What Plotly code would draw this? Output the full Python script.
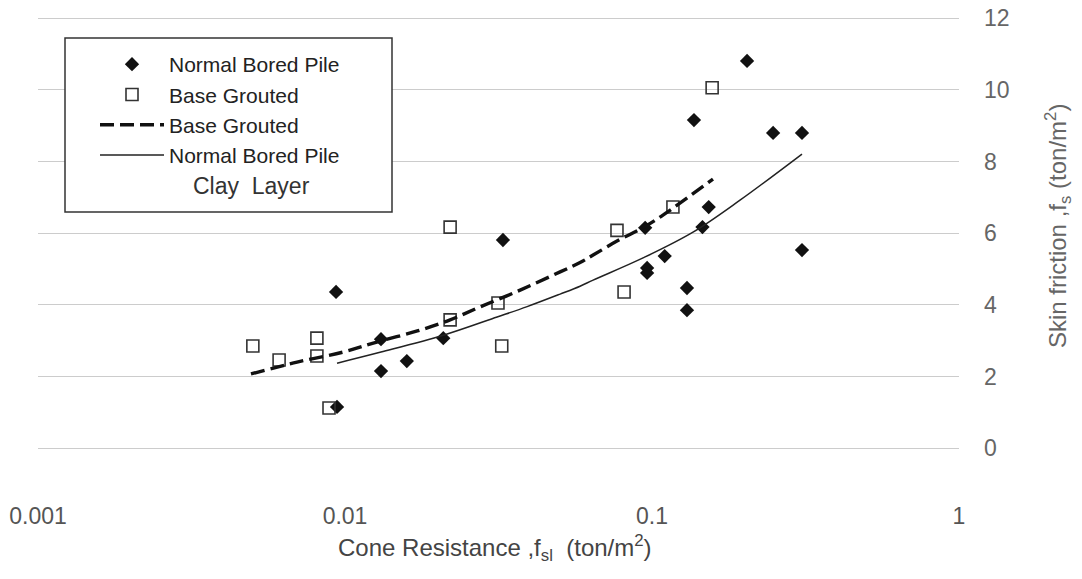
import plotly.graph_objects as go

# ---- data ----
nbp_x = [0.00942, 0.00935, 0.0131, 0.0131, 0.0159, 0.0209, 0.0327, 0.204, 0.137,
         0.248, 0.308, 0.153, 0.146, 0.308, 0.110, 0.0964, 0.0964, 0.130, 0.130, 0.095]
nbp_y = [1.15, 4.36, 3.04, 2.15, 2.43, 3.07, 5.81, 10.81, 9.16,
         8.80, 8.80, 6.73, 6.17, 5.53, 5.36, 5.03, 4.89, 4.47, 3.85, 6.15]

bg_x = [0.00501, 0.0061, 0.0081, 0.0081, 0.00887, 0.022, 0.022, 0.0324, 0.0315,
        0.157, 0.117, 0.0769, 0.0811]
bg_y = [2.85, 2.46, 3.07, 2.57, 1.12, 3.58, 6.17, 2.85, 4.05,
        10.06, 6.73, 6.08, 4.36]

bg_fit_x = [0.00494, 0.00698, 0.00985, 0.0127, 0.0172, 0.022, 0.0275, 0.0372,
            0.0502, 0.0583, 0.0643, 0.0769, 0.0964, 0.117, 0.158]
bg_fit_y = [2.07, 2.40, 2.68, 2.96, 3.27, 3.58, 3.94, 4.41,
            4.92, 5.18, 5.39, 5.78, 6.22, 6.70, 7.51]

nbp_fit_x = [0.00942, 0.0131, 0.0209, 0.0313, 0.0392, 0.0502, 0.0583, 0.0643,
             0.0935, 0.136, 0.194, 0.308]
nbp_fit_y = [2.37, 2.68, 3.15, 3.66, 3.95, 4.30, 4.52, 4.69,
             5.31, 6.03, 6.93, 8.21]

x_ticks = [0.001, 0.01, 0.1, 1]
x_tick_text = ["0.001", "0.01", "0.1", "1"]
y_ticks = [0, 2, 4, 6, 8, 10, 12]

FONT = "Liberation Sans, Arial, sans-serif"

fig = go.Figure()
fig.add_trace(go.Scatter(
    x=nbp_x, y=nbp_y, mode="markers", name="Normal Bored Pile",
    marker=dict(symbol="diamond", size=11, color="#111111",
                line=dict(width=0))))
fig.add_trace(go.Scatter(
    x=bg_x, y=bg_y, mode="markers", name="Base Grouted",
    marker=dict(symbol="square-open", size=12, color="#333333",
                line=dict(width=1.6, color="#333333"))))
fig.add_trace(go.Scatter(
    x=bg_fit_x, y=bg_fit_y, mode="lines", name="Base Grouted",
    line=dict(color="#111111", width=3.4, dash="14px,6px", shape="spline")))
fig.add_trace(go.Scatter(
    x=nbp_fit_x, y=nbp_fit_y, mode="lines", name="Normal Bored Pile",
    line=dict(color="#222222", width=1.5, shape="spline")))

W, H = 1082, 579
L, R = 38, 123
T = 4
yr = [-1.45, 12.4]
plot_h = (yr[1] - yr[0]) * 35.8
B = H - T - plot_h
plot_w = W - L - R


def px(xp):
    return (xp - L) / plot_w


def py(yp):
    return (T + plot_h - yp) / plot_h


fig.update_layout(
    width=W, height=H,
    margin=dict(l=L, r=R, t=T, b=B, pad=0),
    paper_bgcolor="white", plot_bgcolor="white",
    font=dict(family=FONT, size=22, color="#444444"),
    showlegend=True,
    legend=dict(
        x=px(95), y=py(44), xanchor="left", yanchor="top",
        bgcolor="rgba(0,0,0,0)", borderwidth=0,
        font=dict(family=FONT, size=21, color="#222222"),
        itemwidth=64, tracegroupgap=0,
    ),
    xaxis=dict(
        type="log", range=[-3, 0],
        tickvals=x_ticks, ticktext=x_tick_text,
        showgrid=False, zeroline=False, showline=False, ticks="",
        tickfont=dict(family=FONT, size=23, color="#555555"),
    ),
    yaxis=dict(
        range=yr, side="right", tickvals=y_ticks,
        showgrid=True, gridcolor="#cccccc", gridwidth=1,
        zeroline=False, showline=False, ticks="",
        ticklabelstandoff=24,
        tickfont=dict(family=FONT, size=23, color="#666666"),
    ),
    shapes=[dict(
        type="rect", xref="paper", yref="paper",
        x0=px(65), x1=px(392), y0=py(212), y1=py(38),
        fillcolor="white", line=dict(color="#333333", width=1.5),
        layer="above",
    )],
    annotations=[
        dict(text="Clay  Layer", xref="paper", yref="paper",
             x=px(251), y=py(186), xanchor="center", yanchor="middle",
             showarrow=False, font=dict(family=FONT, size=23, color="#333333")),
        dict(text="Cone Resistance ,f<sub>sl</sub>  (ton/m<sup>2</sup>)",
             xref="paper", yref="paper", x=px(495), y=py(548),
             xanchor="center", yanchor="middle", showarrow=False,
             font=dict(family=FONT, size=24, color="#444444")),
        dict(text="Skin friction ,f<sub>s</sub> (ton/m<sup>2</sup>)",
             xref="paper", yref="paper", x=px(1058), y=py(226),
             xanchor="center", yanchor="middle", textangle=-90,
             showarrow=False, font=dict(family=FONT, size=24, color="#666666")),
    ],
)

fig.write_html("out.html")
